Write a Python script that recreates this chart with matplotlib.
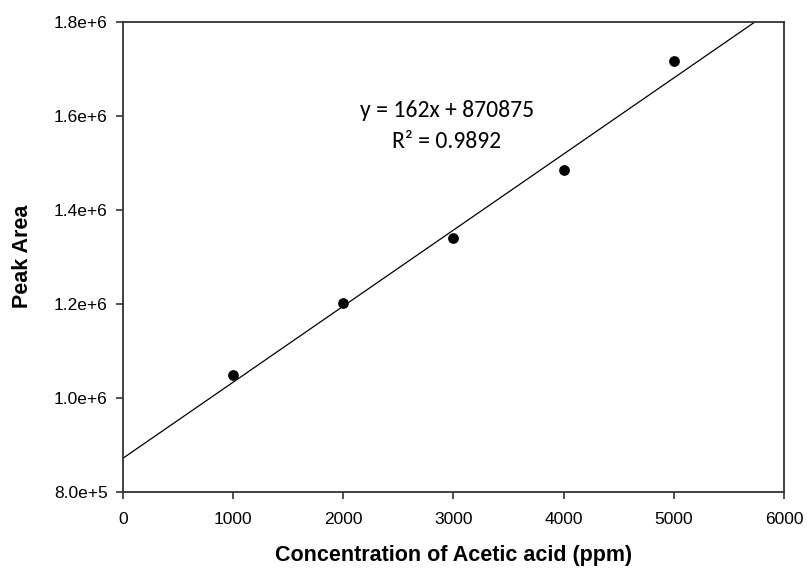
import matplotlib
matplotlib.use("Agg")
import matplotlib.pyplot as plt
import numpy as np

# Calibration data: acetic acid concentration vs. peak area
conc_ppm = [1000, 2000, 3000, 4000, 5000]
peak_area = [1.048e6, 1.2015e6, 1.340e6, 1.485e6, 1.717e6]

slope = 162
intercept = 870875
r_squared = 0.9892

x_ticks = [0, 1000, 2000, 3000, 4000, 5000, 6000]
y_ticks = [8.0e5, 1.0e6, 1.2e6, 1.4e6, 1.6e6, 1.8e6]
y_tick_labels = ["8.0e+5", "1.0e+6", "1.2e+6", "1.4e+6", "1.6e+6", "1.8e+6"]

tick_font = ["Liberation Sans Narrow", "Liberation Sans", "DejaVu Sans"]
label_font = ["Liberation Sans", "DejaVu Sans"]
eq_font = ["Carlito", "Lato", "DejaVu Sans"]

fig = plt.figure(figsize=(8.07, 5.69), dpi=100)
ax = fig.add_axes([0.1524, 0.1362, 0.8191, 0.8251])

ax.scatter(conc_ppm, peak_area, s=45, color="black", zorder=3)

fit_x = np.array([x_ticks[0], x_ticks[-1]])
ax.plot(fit_x, slope * fit_x + intercept, color="black", linewidth=0.9, zorder=2)

ax.set_xlim(x_ticks[0], x_ticks[-1])
ax.set_ylim(y_ticks[0], y_ticks[-1])
ax.set_xticks(x_ticks)
ax.set_xticklabels([str(v) for v in x_ticks], family=tick_font, fontsize=12.5)
ax.set_yticks(y_ticks)
ax.set_yticklabels(y_tick_labels, family=tick_font, fontsize=12.5)
ax.tick_params(direction="out", length=5, width=1.2, color="#333333")
ax.tick_params(axis="x", pad=10)
ax.tick_params(axis="y", pad=6)

for sp in ax.spines.values():
    sp.set_linewidth(1.3)
    sp.set_color("#333333")

ax.set_xlabel("Concentration of Acetic acid (ppm)", family=label_font,
              fontsize=15.5, fontweight="bold", labelpad=13)
ax.set_ylabel("Peak Area", family=label_font, fontsize=15.5,
              fontweight="bold", labelpad=15)

ax.text(0.490, 0.7785, f"y = {slope}x + {intercept}\nR\u00b2 = {r_squared}",
        transform=ax.transAxes, ha="center", va="center", family=eq_font,
        fontsize=17, linespacing=1.55, multialignment="center", zorder=4)

fig.savefig("out.png", dpi=100)
